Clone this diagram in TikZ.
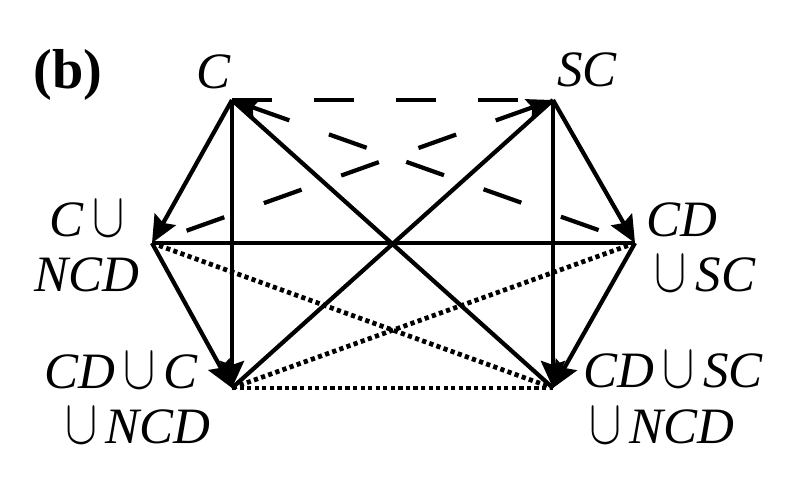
\documentclass[tikz,border=0pt]{standalone}
\usepackage{fontspec}
\setmainfont{Liberation Serif}
\usepackage{tikz}
\usetikzlibrary{arrows.meta, positioning}

\newcommand{\un}{\smash{\scalebox{0.95}[1.25]{$\cup$}}}

\tikzset{
  edge/.style={line width=1.2pt},
  tip/.style={-{Stealth[length=0.27cm,width=0.24cm,inset=0.04cm]}},
  dashline/.style={edge, dash pattern=on 0.4cm off 0.42cm},
  dotline/.style={line width=1.35pt, dash pattern=on 1.2pt off 0.95pt},
  lab/.style={inner sep=0pt, font=\fontsize{14.5}{17}\selectfont\itshape}
}

\begin{document}
\begin{tikzpicture}[x=0.01cm, y=-0.01cm]
    \useasboundingbox (0,0) rectangle (803,496);

    % the six sets
    \coordinate (c)    at (232,100);
    \coordinate (sc)   at (553,100);
    \coordinate (cn)   at (152,243);
    \coordinate (cds)  at (635,243);
    \coordinate (cdcn) at (232,388);
    \coordinate (cdsn) at (553,388);

    % labels
    \node[font=\fontsize{16}{19}\selectfont\bfseries, inner sep=0pt] (b) at (68,75) {(b)};
    \node[lab] (lc)    at (214,72)  {C};
    \node[lab] (lsc)   at (587,70)  {SC};
    \node[lab] (lcn1)  at (87,220)  {C\,\un};
    \node[lab] (lcn2)  at (87,275)  {NCD};
    \node[lab] (lcds1) at (682,220) {CD};
    \node[lab] (lcds2) at (705,275) {\un\,SC};
    \node[lab] (lcdcn1) at (121,372) {CD\,\un\,C};
    \node[lab] (lcdcn2) at (138,427) {\un\,NCD};
    \node[lab] (lcdsn1) at (673,371) {CD\,\un\,SC};
    \node[lab] (lcdsn2) at (662,427) {\un\,NCD};

    % solid arrows
    \draw[edge,tip] (c) -- (cn);
    \draw[edge,tip] (c) -- (cdcn);
    \draw[edge,tip] (sc) -- (cds);
    \draw[edge,tip] (sc) -- (cdsn);
    \draw[edge,tip] (cn) -- (cdcn);
    \draw[edge,tip] (cds) -- (cdsn);

    % solid lines
    \draw[edge] (c) -- (cdsn);
    \draw[edge] (sc) -- (cdcn);
    \draw[edge] (cn) -- (cds);

    % dashed lines
    \draw[dashline] (c) -- (sc);
    \draw[dashline,{Stealth[length=0.26cm,width=0.2cm,inset=0.04cm]}-] (c) -- (cds);
    \draw[dashline,{Stealth[length=0.26cm,width=0.2cm,inset=0.04cm]}-] (sc) -- (cn);

    % dotted lines
    \draw[dotline] (cn) -- (cdsn);
    \draw[dotline] (cds) -- (cdcn);
    \draw[dotline] (cdcn) -- (cdsn);

\end{tikzpicture}
\end{document}
